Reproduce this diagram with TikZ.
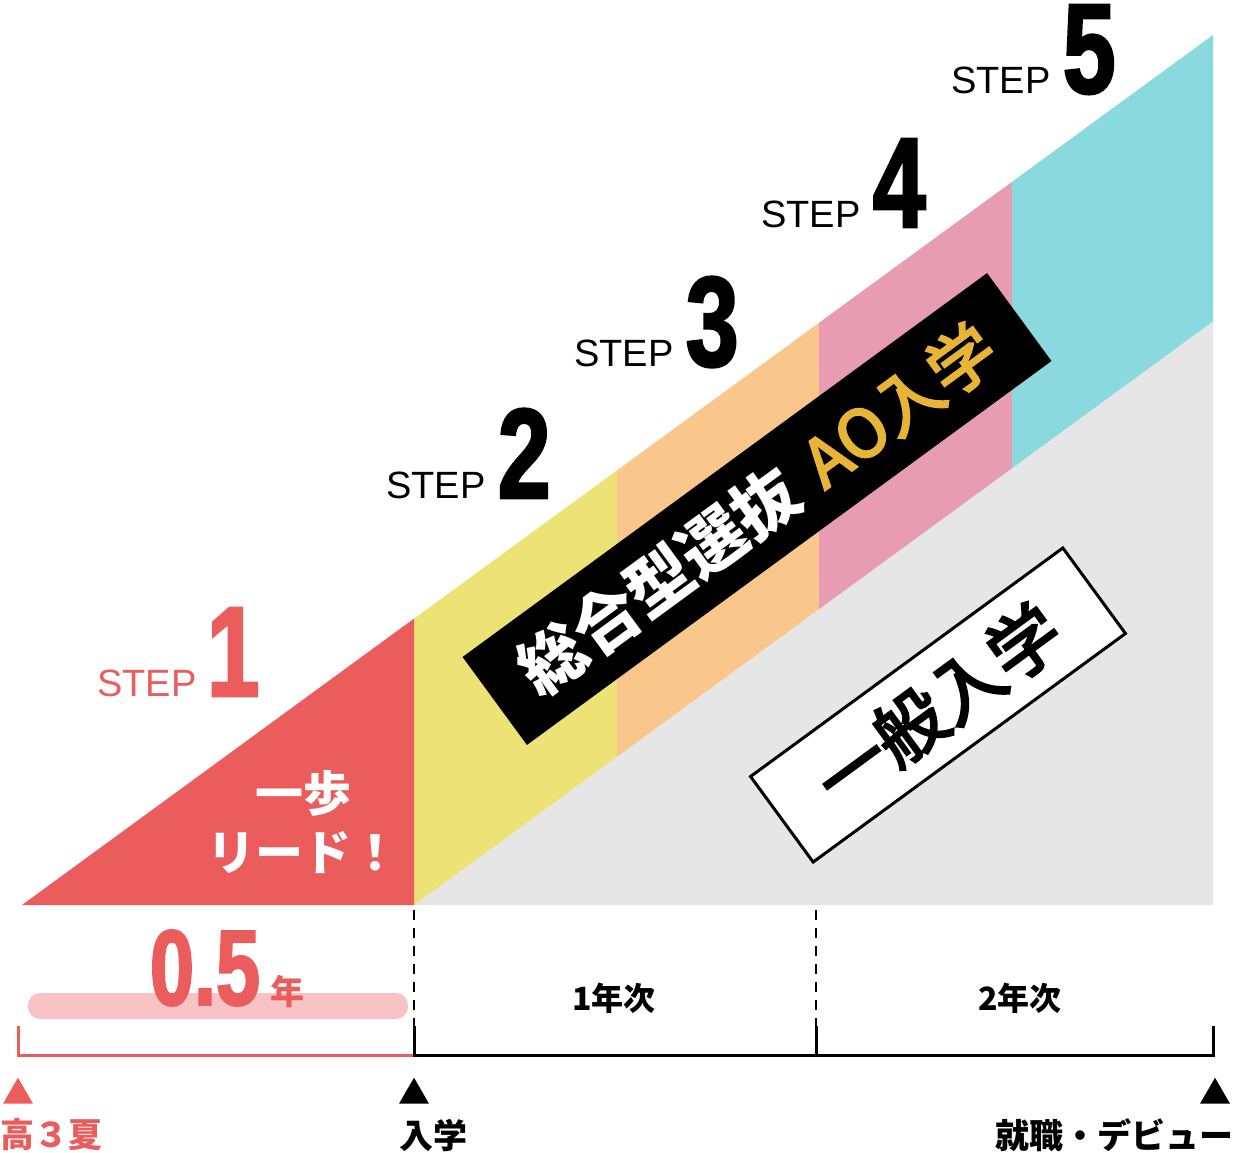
\documentclass[tikz,border=0pt]{standalone}
\usepackage{fontspec}
\setmainfont{Liberation Sans}
\newfontfamily\jp{Noto Sans CJK JP}
\newfontfamily\jpsemi{Noto Sans CJK JP}[FakeBold=3.5]
\newfontfamily\numfont{Liberation Sans}[FakeStretch=0.74, FakeBold=2]
\usetikzlibrary{positioning,shapes.geometric}
\definecolor{stepred}{HTML}{EB5C5C}
\definecolor{bandyellow}{HTML}{ECE275}
\definecolor{bandorange}{HTML}{F9C78B}
\definecolor{bandpink}{HTML}{E79CB1}
\definecolor{bandcyan}{HTML}{8AD9DF}
\definecolor{basegray}{HTML}{E6E6E6}
\definecolor{aogold}{HTML}{E8B437}
\definecolor{barpink}{HTML}{F8C3C4}
\tikzset{
steplabel/.style={inner sep=0pt, anchor=base west, font=\fontsize{38}{38}\selectfont},
stepnum/.style={inner sep=0pt, anchor=base west, font=\numfont\bfseries\fontsize{128}{128}\selectfont},
yearlabel/.style={inner sep=0pt, font=\jp\bfseries\fontsize{32}{32}\selectfont},
eventlabel/.style={inner sep=0pt, font=\jp\bfseries\fontsize{34}{34}\selectfont},
marker/.style={regular polygon, regular polygon sides=3, inner sep=0pt, minimum size=34.6pt},
tick/.style={line width=3pt},
divider/.style={line width=2.5pt, dash pattern=on 10pt off 8pt},
}

\begin{document}
\begin{tikzpicture}[x=1pt, y=-1pt]
\useasboundingbox (0,0) rectangle (1234,1152);
%Areas
\fill[basegray] (414,905) -- (1213,321.4) -- (1213,905) -- cycle;
\foreach \xa/\xb/\col in {414/617/bandyellow, 617/819/bandorange, 819/1012/bandpink, 1012/1213/bandcyan}
  \fill[\col] (\xa,{905-(\xa-22)*0.7305}) -- (\xb,{905-(\xb-22)*0.7305})
    -- (\xb,{1191.4-(\xb-22)*0.7305}) -- (\xa,{1191.4-(\xa-22)*0.7305}) -- cycle;
\fill[stepred] (22,905) -- (414,618.6) -- (414,905) -- cycle;

%Banners
\node[rotate=36.2, fill=black, minimum width=650pt, minimum height=109pt,
  font=\fontsize{66}{66}\selectfont] (ao) at (757,509)
  {\textcolor{white}{\jp\bfseries 総合型選抜}\hspace{22pt}\textcolor{aogold}{\jpsemi AO入学}};
\node[rotate=36.2, draw, line width=3pt, fill=white, minimum width=387pt, minimum height=106pt,
  font=\jpsemi\fontsize{71}{71}\selectfont] (general) at (938,705) {一般入学};
\node[align=center, text=white, font=\jp\bfseries\fontsize{48}{59}\selectfont] (lead) at (303,822) {一歩\\リード！};

%Steps
\node[steplabel, text=stepred] (s1) at (97,696) {STEP};
\node[stepnum, text=stepred] (n1) at ([xshift=10pt]s1.base east) {1};
\node[steplabel] (s2) at (386,498) {STEP};
\node[stepnum] (n2) at ([xshift=12pt]s2.base east) {2};
\node[steplabel] (s3) at (574,366) {STEP};
\node[stepnum] (n3) at ([xshift=12pt]s3.base east) {3};
\node[steplabel] (s4) at (761,227) {STEP};
\node[stepnum] (n4) at ([xshift=12pt]s4.base east) {4};
\node[steplabel] (s5) at (951,93) {STEP};
\node[stepnum] (n5) at ([xshift=12pt]s5.base east) {5};

%Timeline
\coordinate (t0) at (18,1055);
\coordinate (t1) at (414,1055);
\coordinate (t2) at (816,1055);
\coordinate (t3) at (1213,1055);
\fill[barpink, rounded corners=12pt] (28,993) rectangle (408,1019);
\node[inner sep=0pt, text=stepred, font=\numfont\bfseries\fontsize{107}{107}\selectfont] (half) at (205,968) {0.5};
\node[inner sep=0pt, anchor=base west, text=stepred, font=\jp\bfseries\fontsize{34}{34}\selectfont]
  (halfyear) at ([xshift=10pt]half.base east) {年};
\draw[tick, stepred] ([yshift=29pt]t0) -- (t0) -- (t1);
\draw[tick] ([yshift=29pt]t1) -- (t1) -- (t3) -- ([yshift=29pt]t3);
\draw[tick] ([yshift=29pt]t2) -- (t2);
\draw[divider] (414,910) -- ([yshift=29pt]t1);
\draw[divider] (816,910) -- ([yshift=29pt]t2);
\node[yearlabel] (y1) at (614,998) {1年次};
\node[yearlabel] (y2) at (1020,998) {2年次};

%Events
\node[marker, fill=stepred] (m0) at (18,1095) {};
\node[marker, fill=black] (m1) at (414,1095) {};
\node[marker, fill=black] (m2) at (1215,1095) {};
\node[eventlabel, text=stepred, anchor=west] (e0) at (0,1135) {高３夏};
\node[eventlabel, anchor=west] (e1) at (399,1135) {入学};
\node[eventlabel, anchor=east] (e2) at (1234,1135) {就職・デビュー};
\end{tikzpicture}
\end{document}
